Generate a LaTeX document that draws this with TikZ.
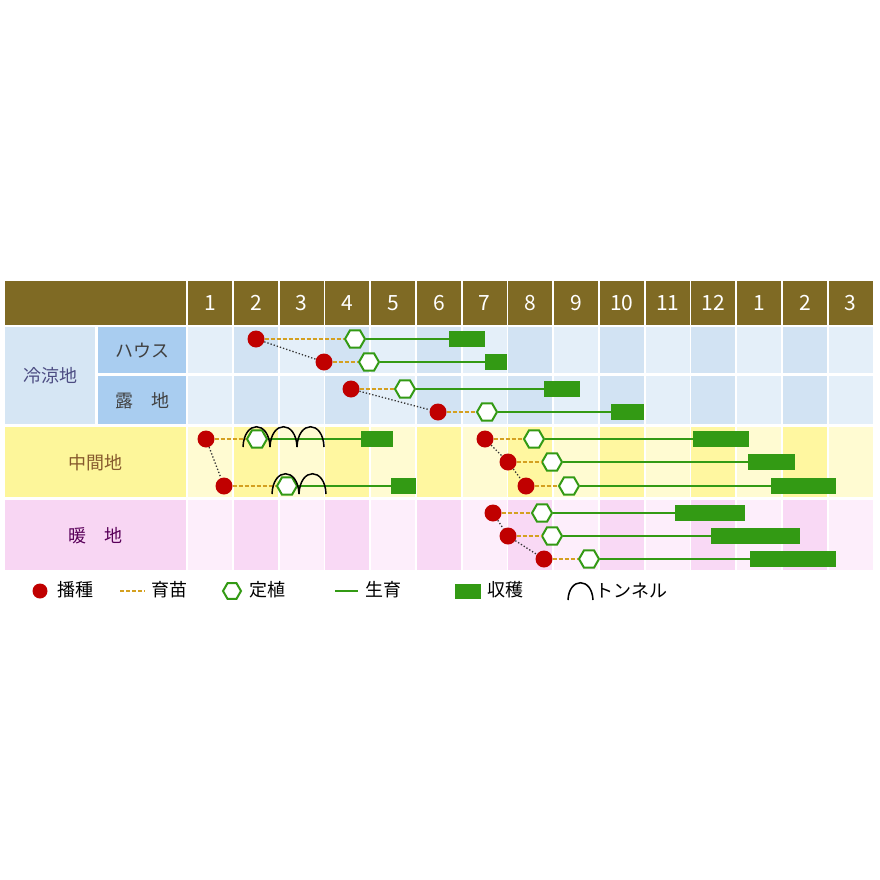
\documentclass[tikz,border=0pt]{standalone}
\usepackage{fontspec}
\setmainfont{Noto Sans CJK JP}
\usetikzlibrary{shapes.geometric}
\definecolor{hdr}{HTML}{7F6A24}
\definecolor{bA}{HTML}{E4EFF9}\definecolor{bB}{HTML}{D2E3F3}
\definecolor{yA}{HTML}{FFFBD2}\definecolor{yB}{HTML}{FFF7A0}
\definecolor{pA}{HTML}{FDEEFB}\definecolor{pB}{HTML}{F9D9F5}
\definecolor{lblue}{HTML}{D6E6F4}\definecolor{mblue}{HTML}{A9CDF0}
\definecolor{lyel}{HTML}{FDF69A}\definecolor{lpink}{HTML}{F8D6F3}
\definecolor{grn}{HTML}{339A14}\definecolor{sowc}{HTML}{C00000}\definecolor{nur}{HTML}{D4A020}
\tikzset{
 sowdot/.style={circle,fill=sowc,minimum size=17pt,inner sep=0pt},
 plantHex/.style={regular polygon,regular polygon sides=6,draw=grn,line width=2pt,fill=white,minimum size=20pt,inner sep=0pt},
 harvbar/.style={fill=grn,draw=none,minimum height=16pt,inner sep=0pt},
 nursline/.style={nur,line width=2.5pt,dash pattern=on 4pt off 2pt},
 growline/.style={grn,line width=2.5pt},
 linkline/.style={black!80,line width=1.3pt,dotted},
 tunline/.style={black,line width=1.5pt},
 hdcell/.style={fill=hdr,text=white,font=\fontsize{21}{21}\selectfont,inner sep=0pt},
 labtxt/.style={font=\fontsize{18}{18}\selectfont},
}
\begin{document}
\begin{tikzpicture}[x=1pt,y=-1pt]
\useasboundingbox[fill=white] (0,0) rectangle (880,880);
% header
\node[hdcell,minimum width=181pt,minimum height=44pt,anchor=north west] (h0) at (5,281) {};
\foreach \m [count=\i] in {1,2,3,4,5,6,7,8,9,10,11,12,1,2,3}{
  \pgfmathsetmacro\xx{188+45.75*(\i-1)}
  \node[hdcell,minimum width=44pt,minimum height=44pt,anchor=north west] (m\i) at (\xx,281) {\m};
  \pgfmathtruncatemacro\ev{mod(\i,2)}
  \ifnum\ev=0
    \fill[bB] (\xx,327) rectangle ++(44,46); \fill[bB] (\xx,376) rectangle ++(44,48);
    \fill[yB] (\xx,427) rectangle ++(44,70); \fill[pB] (\xx,500) rectangle ++(44,70);
  \else
    \fill[bA] (\xx,327) rectangle ++(44,46); \fill[bA] (\xx,376) rectangle ++(44,48);
    \fill[yA] (\xx,427) rectangle ++(44,70); \fill[pA] (\xx,500) rectangle ++(44,70);
  \fi
}
% left labels
\node[fill=lblue,minimum width=90pt,minimum height=97pt,anchor=north west,inner sep=0pt] (rl) at (5,327) {};
\node[labtxt,text=blue!30!black!70] at (rl.center) {冷涼地};
\node[fill=mblue,minimum width=88pt,minimum height=46pt,anchor=north west,inner sep=0pt,labtxt,text=black!75] (hs) at (98,327) {ハウス};
\node[fill=mblue,minimum width=88pt,minimum height=48pt,anchor=north west,inner sep=0pt,labtxt,text=black!75] (rc) at (98,376) {露\hspace{1em}地};
\node[fill=lyel,minimum width=181pt,minimum height=70pt,anchor=north west,inner sep=0pt,labtxt,text=brown!70!black] (cm) at (5,427) {中間地};
\node[fill=lpink,minimum width=181pt,minimum height=70pt,anchor=north west,inner sep=0pt,labtxt,text=violet!70!black] (dc) at (5,500) {暖\hspace{1em}地};
% rows
\foreach \n/\y/\s/\p/\ha/\hb in {r1/339/256/355/449/485, r2/362/324/369/485/507, r3/389/351/405/544/580, r4/412/438/487/611/644,
  a/439/206/257/361/393, b/486/224/287/391/416, c/439/485/534/693/749, d/462/508/552/748/795, e/486/526/569/771/836,
  f/513/493/542/675/745, g/536/508/552/711/800, h/559/544/589/750/836}{
  \pgfmathsetmacro\ww{\hb-\ha}
  \node[harvbar,minimum width=\ww pt,anchor=west] (\n H) at (\ha,\y) {};
  \node[sowdot] (\n S) at (\s,\y) {};
  \node[plantHex] (\n P) at (\p,\y) {};
  \draw[nursline] (\n S) -- (\n P);
  \draw[growline] (\n P) -- (\n H);
}
% tunnels
\foreach \x/\y in {243/447,270/447,297/447,272/494,299/494}{
  \draw[tunline] (\x,\y) .. controls (\x+1,\y-27) and (\x+26,\y-27) .. (\x+27,\y);
}
% links
\draw[linkline] (r1S) -- (r2S);
\draw[linkline] (r3S) -- (r4S);
\draw[linkline] (aS) -- (bS);
\draw[linkline] (cS) -- (dS) -- (eS);
\draw[linkline] (fS) -- (gS) -- (hS);
% legend
\node[sowdot,minimum size=15pt] (l1) at (40,591) {};
\node[labtxt,anchor=west] (t1) at (54,590) {播種};
\coordinate (l2a) at (120,591); \coordinate (l2b) at (145,591);
\draw[nursline] (l2a) -- (l2b);
\node[labtxt,anchor=west] (t2) at (148,590) {育苗};
\node[plantHex,minimum size=18pt] (l3) at (232,591) {};
\node[labtxt,anchor=west] (t3) at (246,590) {定植};
\coordinate (l4a) at (335,591); \coordinate (l4b) at (358,591);
\draw[growline] (l4a) -- (l4b);
\node[labtxt,anchor=west] (t4) at (362,590) {生育};
\node[harvbar,minimum width=26pt,minimum height=15pt] (l5) at (468,591) {};
\node[labtxt,anchor=west] (t5) at (484,590) {収穫};
\draw[tunline] (568,600) .. controls (569,577) and (592,577) .. (593,600);
\node[labtxt,anchor=west] (t6) at (592,591) {トンネル};
\end{tikzpicture}
\end{document}
